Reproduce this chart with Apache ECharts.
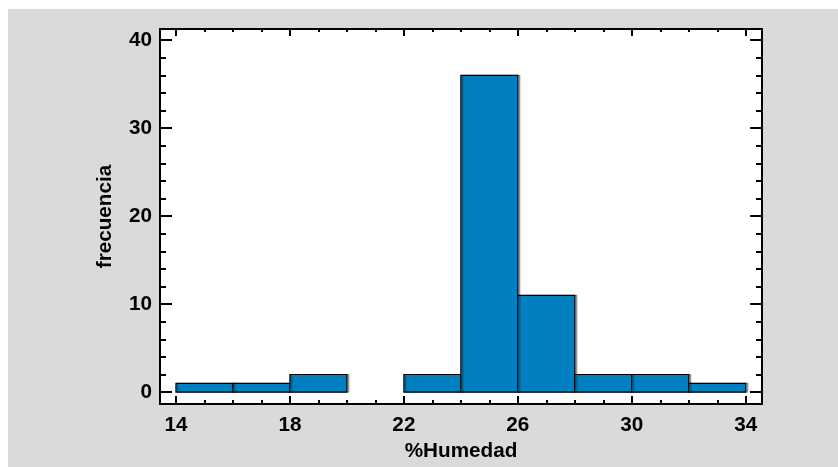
<!DOCTYPE html>
<html>
<head>
<meta charset="utf-8">
<script src="https://cdn.jsdelivr.net/npm/echarts@6/dist/echarts.min.js"></script>
<style>
  html, body { margin: 0; padding: 0; background: #ffffff; }
  #chart { position: absolute; left: 8px; top: 9px; width: 830px; height: 458px; background: #dadada; }
</style>
</head>
<body>
<div id="chart"></div>
<script>
// Histogram of %Humedad: bin edges and counts per bin
const binEdges = [14, 16, 18, 20, 22, 24, 26, 28, 30, 32, 34];
const frecuencia = [1, 1, 2, 0, 2, 36, 11, 2, 2, 1];

// Tick positions
const xMajorTicks = [14, 18, 22, 26, 30, 34];
const xMinorTicks = [15, 16, 17, 19, 20, 21, 23, 24, 25, 27, 28, 29, 31, 32, 33];
const yMajorTicks = [0, 10, 20, 30, 40];
const yMinorTicks = [2, 4, 6, 8, 12, 14, 16, 18, 22, 24, 26, 28, 32, 34, 36, 38];

const xRange = { min: 13.44, max: 34.57 };
const yRange = { min: -1.35, max: 41.27 };

const FONT = "'Liberation Sans', Arial, sans-serif";
const labelStyle = { color: '#000', fontFamily: FONT, fontWeight: 'bold', fontSize: 20.7 };

// Build [start, end, count] rows for the bars
const bins = frecuencia.map((c, i) => [binEdges[i], binEdges[i + 1], c]);

function tickAxis(kind, position, values, length, opts) {
  const ax = {
    type: 'value',
    position: position,
    min: kind === 'x' ? xRange.min : yRange.min,
    max: kind === 'x' ? xRange.max : yRange.max,
    splitLine: { show: false },
    axisLine: { show: false, onZero: false },
    axisTick: {
      show: true,
      inside: true,
      length: length,
      customValues: values,
      lineStyle: { color: '#000', width: 2 }
    },
    axisLabel: { show: false }
  };
  return Object.assign(ax, opts || {});
}

const chart = echarts.init(document.getElementById('chart'));
chart.setOption({
  animation: false,
  backgroundColor: 'transparent',
  grid: {
    left: 152, top: 20, width: 602, height: 378,
    show: true,
    backgroundColor: '#ffffff',
    borderColor: '#000',
    borderWidth: 2
  },
  xAxis: [
    tickAxis('x', 'bottom', xMajorTicks, 8, {
      name: '%Humedad',
      nameLocation: 'middle',
      nameGap: 37,
      nameTextStyle: labelStyle,
      axisLabel: Object.assign({ show: true, margin: 11, customValues: xMajorTicks }, labelStyle)
    }),
    tickAxis('x', 'bottom', xMinorTicks, 4),
    tickAxis('x', 'top', xMajorTicks, 7),
    tickAxis('x', 'top', xMinorTicks, 3)
  ],
  yAxis: [
    tickAxis('y', 'left', yMajorTicks, 12, {
      name: 'frecuencia',
      nameLocation: 'middle',
      nameGap: 44,
      nameTextStyle: labelStyle,
      axisLabel: Object.assign({ show: true, margin: 8, customValues: yMajorTicks }, labelStyle)
    }),
    tickAxis('y', 'left', yMinorTicks, 6),
    tickAxis('y', 'right', yMajorTicks, 12),
    tickAxis('y', 'right', yMinorTicks, 6)
  ],
  series: [{
    type: 'custom',
    xAxisIndex: 0,
    yAxisIndex: 0,
    data: bins,
    renderItem: function (params, api) {
      const count = api.value(2);
      if (!count) return null;
      const p0 = api.coord([api.value(0), 0]);
      const p1 = api.coord([api.value(1), count]);
      return {
        type: 'rect',
        shape: { x: p0[0], y: p1[1], width: p1[0] - p0[0], height: p0[1] - p1[1] },
        style: {
          fill: '#0080c0',
          stroke: '#000',
          lineWidth: 1.2,
          shadowColor: 'rgba(0,0,0,0.3)',
          shadowOffsetX: 2,
          shadowOffsetY: 0,
          shadowBlur: 0
        }
      };
    }
  }]
});
</script>
</body>
</html>
